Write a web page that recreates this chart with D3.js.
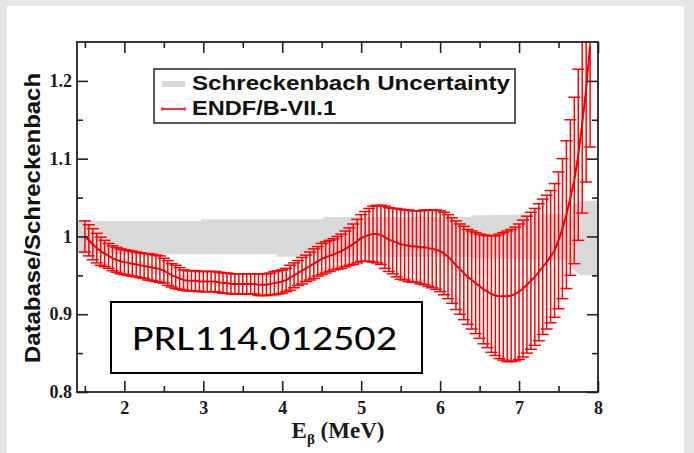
<!DOCTYPE html>
<html lang="en">
<head>
<meta charset="UTF-8">
<title>Database/Schreckenbach</title>
<style>
  body { margin: 0; background: #e6e6e6; }
  svg { display: block; }
  .tick text { font-family: "Liberation Serif", "Times New Roman", serif; font-size: 18px; font-weight: bold; fill: #1a1a1a; }
  .tick line { stroke: #222; stroke-width: 1.6; }
</style>
</head>
<body>
<svg id="chart" width="694" height="453"></svg>
<script src="https://d3js.org/d3.v7.min.js"></script>
<script>
// beta energy bins (MeV)
const energy = [
  1.50, 1.55, 1.60, 1.65, 1.70, 1.75, 1.80, 1.85, 1.90, 1.95,
  2.00, 2.05, 2.10, 2.15, 2.20, 2.25, 2.30, 2.35, 2.40, 2.45,
  2.50, 2.55, 2.60, 2.65, 2.70, 2.75, 2.80, 2.85, 2.90, 2.95,
  3.00, 3.05, 3.10, 3.15, 3.20, 3.25, 3.30, 3.35, 3.40, 3.45,
  3.50, 3.55, 3.60, 3.65, 3.70, 3.75, 3.80, 3.85, 3.90, 3.95,
  4.00, 4.05, 4.10, 4.15, 4.20, 4.25, 4.30, 4.35, 4.40, 4.45,
  4.50, 4.55, 4.60, 4.65, 4.70, 4.75, 4.80, 4.85, 4.90, 4.95,
  5.00, 5.05, 5.10, 5.15, 5.20, 5.25, 5.30, 5.35, 5.40, 5.45,
  5.50, 5.55, 5.60, 5.65, 5.70, 5.75, 5.80, 5.85, 5.90, 5.95,
  6.00, 6.05, 6.10, 6.15, 6.20, 6.25, 6.30, 6.35, 6.40, 6.45,
  6.50, 6.55, 6.60, 6.65, 6.70, 6.75, 6.80, 6.85, 6.90, 6.95,
  7.00, 7.05, 7.10, 7.15, 7.20, 7.25, 7.30, 7.35, 7.40, 7.45,
  7.50, 7.55, 7.60, 7.65, 7.70, 7.75, 7.80, 7.85, 7.90
];
// ENDF/B-VII.1 / Schreckenbach ratio
const ratio = [
  1.000, 0.995, 0.990, 0.985, 0.981, 0.978, 0.975, 0.972, 0.970, 0.968,
  0.967, 0.966, 0.965, 0.964, 0.963, 0.962, 0.961, 0.960, 0.959, 0.958,
  0.956, 0.953, 0.950, 0.948, 0.946, 0.944, 0.943, 0.943, 0.943, 0.942,
  0.942, 0.942, 0.942, 0.942, 0.941, 0.940, 0.940, 0.939, 0.939, 0.939,
  0.939, 0.939, 0.939, 0.939, 0.938, 0.938, 0.938, 0.939, 0.940, 0.941,
  0.942, 0.944, 0.947, 0.950, 0.953, 0.956, 0.959, 0.962, 0.965, 0.968,
  0.971, 0.973, 0.975, 0.977, 0.979, 0.981, 0.984, 0.987, 0.990, 0.994,
  0.998, 1.000, 1.002, 1.003, 1.003, 1.002, 0.999, 0.996, 0.994, 0.992,
  0.990, 0.989, 0.988, 0.987, 0.987, 0.986, 0.986, 0.985, 0.984, 0.983,
  0.981, 0.978, 0.974, 0.969, 0.963, 0.958, 0.953, 0.948, 0.944, 0.940,
  0.936, 0.932, 0.929, 0.926, 0.924, 0.923, 0.923, 0.923, 0.924, 0.926,
  0.929, 0.933, 0.938, 0.943, 0.948, 0.954, 0.961, 0.967, 0.974, 0.982,
  0.995, 1.010, 1.028, 1.050, 1.072, 1.105, 1.145, 1.190, 1.245
];
// half-length of the error bars
const ratioErr = [
  0.020, 0.020, 0.020, 0.019, 0.018, 0.017, 0.016, 0.016, 0.016, 0.016,
  0.016, 0.016, 0.016, 0.016, 0.016, 0.016, 0.017, 0.017, 0.017, 0.017,
  0.016, 0.016, 0.015, 0.015, 0.014, 0.013, 0.013, 0.013, 0.013, 0.013,
  0.013, 0.013, 0.013, 0.013, 0.013, 0.013, 0.013, 0.013, 0.013, 0.013,
  0.013, 0.013, 0.013, 0.013, 0.014, 0.014, 0.014, 0.014, 0.015, 0.015,
  0.015, 0.015, 0.016, 0.016, 0.016, 0.017, 0.017, 0.018, 0.019, 0.019,
  0.020, 0.020, 0.020, 0.020, 0.021, 0.022, 0.023, 0.024, 0.026, 0.028,
  0.030, 0.032, 0.034, 0.036, 0.037, 0.038, 0.040, 0.041, 0.042, 0.044,
  0.045, 0.045, 0.046, 0.046, 0.046, 0.047, 0.048, 0.049, 0.050, 0.051,
  0.052, 0.053, 0.054, 0.055, 0.057, 0.058, 0.060, 0.061, 0.063, 0.065,
  0.067, 0.070, 0.072, 0.075, 0.077, 0.080, 0.082, 0.084, 0.085, 0.086,
  0.087, 0.088, 0.088, 0.088, 0.088, 0.088, 0.087, 0.086, 0.085, 0.086,
  0.088, 0.090, 0.095, 0.100, 0.107, 0.110, 0.115, 0.120, 0.130
];
// Schreckenbach uncertainty band (step edges)
const bandE  = [1.40, 2.97, 2.97, 3.93, 3.93, 4.52, 4.52, 6.40, 6.40, 7.62, 7.70, 7.78, 8.02];
const bandHi = [1.020, 1.020, 1.022, 1.022, 1.022, 1.022, 1.025, 1.025, 1.027, 1.029, 1.040, 1.046, 1.046];
const bandLo = [0.977, 0.977, 0.977, 0.977, 0.974, 0.974, 0.974, 0.974, 0.972, 0.970, 0.956, 0.950, 0.950];

const xTicks = [2, 3, 4, 5, 6, 7, 8];
const xMinor = [1.5, 2.5, 3.5, 4.5, 5.5, 6.5, 7.5];
const yTicks = [0.8, 0.9, 1.0, 1.1, 1.2];
const yTickLabels = ["0.8", "0.9", "1", "1.1", "1.2"];
const yMinor = [0.85, 0.95, 1.05, 1.15];

const svg = d3.select("#chart");

// slide background
svg.append("rect").attr("x", 7).attr("y", 6).attr("width", 677).attr("height", 447).attr("fill", "#fff");

const pL = 77, pR = 598, pT = 42, pB = 392;
const x = d3.scaleLinear().domain([1.4, 8]).range([pL, pR]);
const y = d3.scaleLinear().domain([0.8, 1.25]).range([pB, pT]);

svg.append("clipPath").attr("id", "plotclip")
  .append("rect").attr("x", pL).attr("y", pT).attr("width", pR - pL).attr("height", pB - pT);

const plot = svg.append("g").attr("clip-path", "url(#plotclip)");

const band = bandE.map((e, i) => ({ e, hi: bandHi[i], lo: bandLo[i] }));
plot.append("path")
  .datum(band)
  .attr("fill", "#d9d9d9")
  .attr("d", d3.area().x(d => x(d.e)).y0(d => y(d.lo)).y1(d => y(d.hi)));

const pts = energy.map((e, i) => ({ e, v: ratio[i], err: ratioErr[i] }));
const cap = 6;
const bars = plot.append("g").attr("stroke", "#ff0000").attr("stroke-width", 1.5);
pts.forEach(d => {
  const xc = x(d.e), y1 = y(d.v + d.err), y0 = y(d.v - d.err);
  bars.append("line").attr("x1", xc).attr("x2", xc).attr("y1", y1).attr("y2", y0);
  bars.append("line").attr("x1", xc - cap).attr("x2", xc + cap).attr("y1", y1).attr("y2", y1);
  bars.append("line").attr("x1", xc - cap).attr("x2", xc + cap).attr("y1", y0).attr("y2", y0);
});

plot.append("path")
  .datum(pts)
  .attr("fill", "none")
  .attr("stroke", "#ee0000")
  .attr("stroke-width", 2)
  .attr("d", d3.line().x(d => x(d.e)).y(d => y(d.v)));

// axes, ticks pointing inwards
function axis(gen, tr, vals, size, fmt, pad) {
  const g = svg.append("g").attr("transform", tr)
    .call(gen.tickValues(vals).tickSize(-size).tickPadding(pad).tickFormat(fmt));
  g.select(".domain").remove();
  return g;
}
axis(d3.axisBottom(x), `translate(0,${pB})`, xTicks, 11, d3.format("d"), 9);
axis(d3.axisBottom(x), `translate(0,${pB})`, xMinor, 6, () => "", 9);
axis(d3.axisTop(x), `translate(0,${pT})`, xTicks, 11, () => "", 9);
axis(d3.axisTop(x), `translate(0,${pT})`, xMinor, 6, () => "", 9);
axis(d3.axisLeft(y), `translate(${pL},0)`, yTicks, 11, (d, i) => yTickLabels[i], 5);
axis(d3.axisLeft(y), `translate(${pL},0)`, yMinor, 6, () => "", 5);
axis(d3.axisRight(y), `translate(${pR},0)`, yTicks, 11, () => "", 5);
axis(d3.axisRight(y), `translate(${pR},0)`, yMinor, 6, () => "", 5);

svg.append("rect")
  .attr("x", pL).attr("y", pT).attr("width", pR - pL).attr("height", pB - pT)
  .attr("fill", "none").attr("stroke", "#222").attr("stroke-width", 1.8);

// axis titles
const xt = svg.append("text")
  .attr("x", 338).attr("y", 438)
  .attr("text-anchor", "middle")
  .attr("font-family", "Liberation Serif, Times New Roman, serif")
  .attr("font-weight", "bold").attr("font-size", 23).attr("fill", "#1a1a1a");
xt.append("tspan").text("E");
xt.append("tspan").attr("font-size", 15).attr("dy", 6).text("β");
xt.append("tspan").attr("dy", -6).text(" (MeV)");

svg.append("text")
  .attr("transform", "translate(40,218) rotate(-90)")
  .attr("text-anchor", "middle")
  .attr("font-family", "Liberation Sans, Arial, sans-serif")
  .attr("font-weight", "bold").attr("font-size", 22)
  .attr("textLength", 290).attr("lengthAdjust", "spacingAndGlyphs")
  .attr("fill", "#111")
  .text("Database/Schreckenbach");

// legend
const lg = svg.append("g");
lg.append("rect").attr("x", 154).attr("y", 69).attr("width", 361).attr("height", 54)
  .attr("fill", "#fff").attr("stroke", "#222").attr("stroke-width", 1.5);
lg.append("line").attr("x1", 162).attr("x2", 185).attr("y1", 84).attr("y2", 84)
  .attr("stroke", "#d9d9d9").attr("stroke-width", 6);
lg.append("line").attr("x1", 162).attr("x2", 185).attr("y1", 109).attr("y2", 109)
  .attr("stroke", "#ff0000").attr("stroke-width", 1.6);
lg.append("line").attr("x1", 162).attr("x2", 162).attr("y1", 107).attr("y2", 111).attr("stroke", "#ff0000");
lg.append("line").attr("x1", 185).attr("x2", 185).attr("y1", 107).attr("y2", 111).attr("stroke", "#ff0000");
const legendLabels = ["Schreckenbach Uncertainty", "ENDF/B-VII.1"];
const legendWidths = [318, 144];
legendLabels.forEach((t, i) => {
  lg.append("text")
    .attr("x", 192).attr("y", 90 + i * 25)
    .attr("font-family", "Liberation Sans, Arial, sans-serif")
    .attr("font-weight", "bold").attr("font-size", 21)
    .attr("textLength", legendWidths[i]).attr("lengthAdjust", "spacingAndGlyphs")
    .attr("fill", "#111")
    .text(t);
});

// reference tag
svg.append("rect").attr("x", 111).attr("y", 302).attr("width", 311).attr("height", 71)
  .attr("fill", "#fff").attr("stroke", "#000").attr("stroke-width", 2);
svg.append("text")
  .attr("x", 132).attr("y", 350)
  .attr("font-family", "Carlito, Calibri, Noto Sans, sans-serif")
  .attr("font-size", 35)
  .attr("textLength", 265).attr("lengthAdjust", "spacingAndGlyphs")
  .attr("fill", "#000")
  .text("PRL114.012502");
</script>
</body>
</html>
